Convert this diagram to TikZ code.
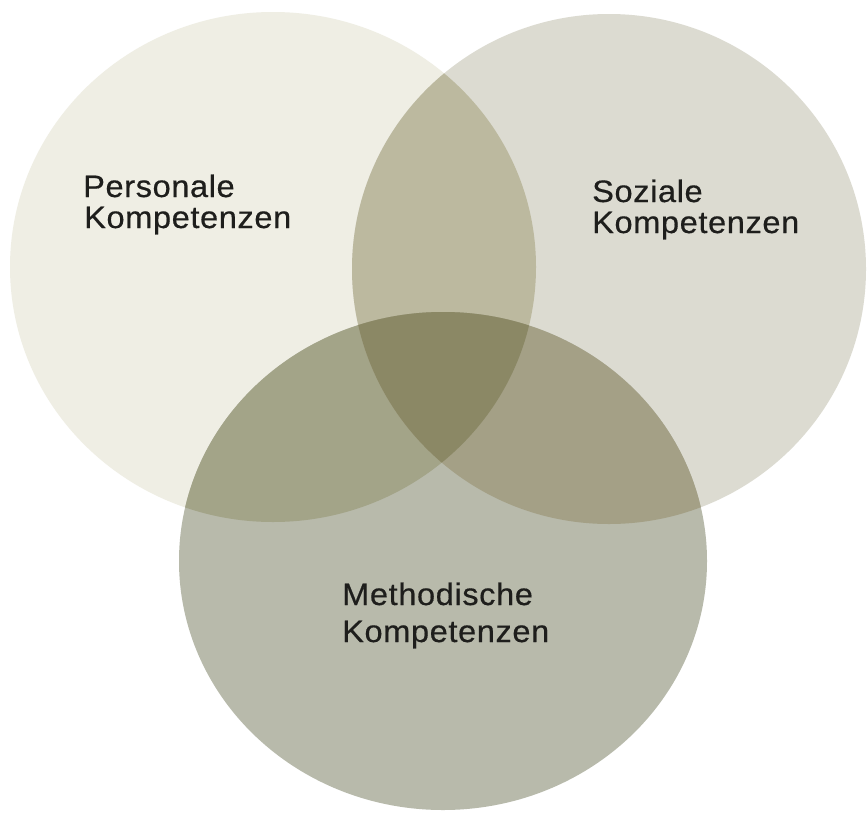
\documentclass[tikz,border=0pt]{standalone}
\usepackage{fontspec}
\setmainfont{Liberation Sans}[FakeStretch=1.05,LetterSpace=2,FakeBold=0.5]
\definecolor{cL}{HTML}{EFEEE4}
\definecolor{cR}{HTML}{DCDBD1}
\definecolor{cB}{HTML}{B8BAAB}
\definecolor{cLR}{HTML}{BCB99F}
\definecolor{cLB}{HTML}{A3A488}
\definecolor{cRB}{HTML}{A4A086}
\definecolor{cLRB}{HTML}{8B8865}
\definecolor{txt}{HTML}{1E1E1C}
\tikzset{
  lbl/.style={anchor=base west, inner sep=0pt, text=txt, font=\fontsize{31}{33}\selectfont},
}
\newcommand{\circL}{(273,267) ellipse [x radius=263, y radius=255]}
\newcommand{\circR}{(609,269) ellipse [x radius=257, y radius=255]}
\newcommand{\circB}{(443,561) ellipse [x radius=264, y radius=249]}
\begin{document}
\begin{tikzpicture}[x=1pt,y=-1pt]
\useasboundingbox (0,0) rectangle (867,819);
\fill[white] (0,0) rectangle (867,819);
\fill[cL] \circL;
\fill[cR] \circR;
\fill[cB] \circB;
\begin{scope}
  \clip \circL;
  \fill[cLR] \circR;
  \fill[cLB] \circB;
\end{scope}
\begin{scope}
  \clip \circR;
  \fill[cRB] \circB;
\end{scope}
\begin{scope}
  \clip \circL;
  \clip \circR;
  \fill[cLRB] \circB;
\end{scope}
\node[lbl] (p1) at (83,197) {Personale};
\node[lbl] (p2) at (84,228) {Kompetenzen};
\node[lbl] (s1) at (592,202) {Soziale};
\node[lbl] (s2) at (592,233) {Kompetenzen};
\node[lbl] (m1) at (342,605) {Methodische};
\node[lbl] (m2) at (342,642) {Kompetenzen};
\end{tikzpicture}
\end{document}
